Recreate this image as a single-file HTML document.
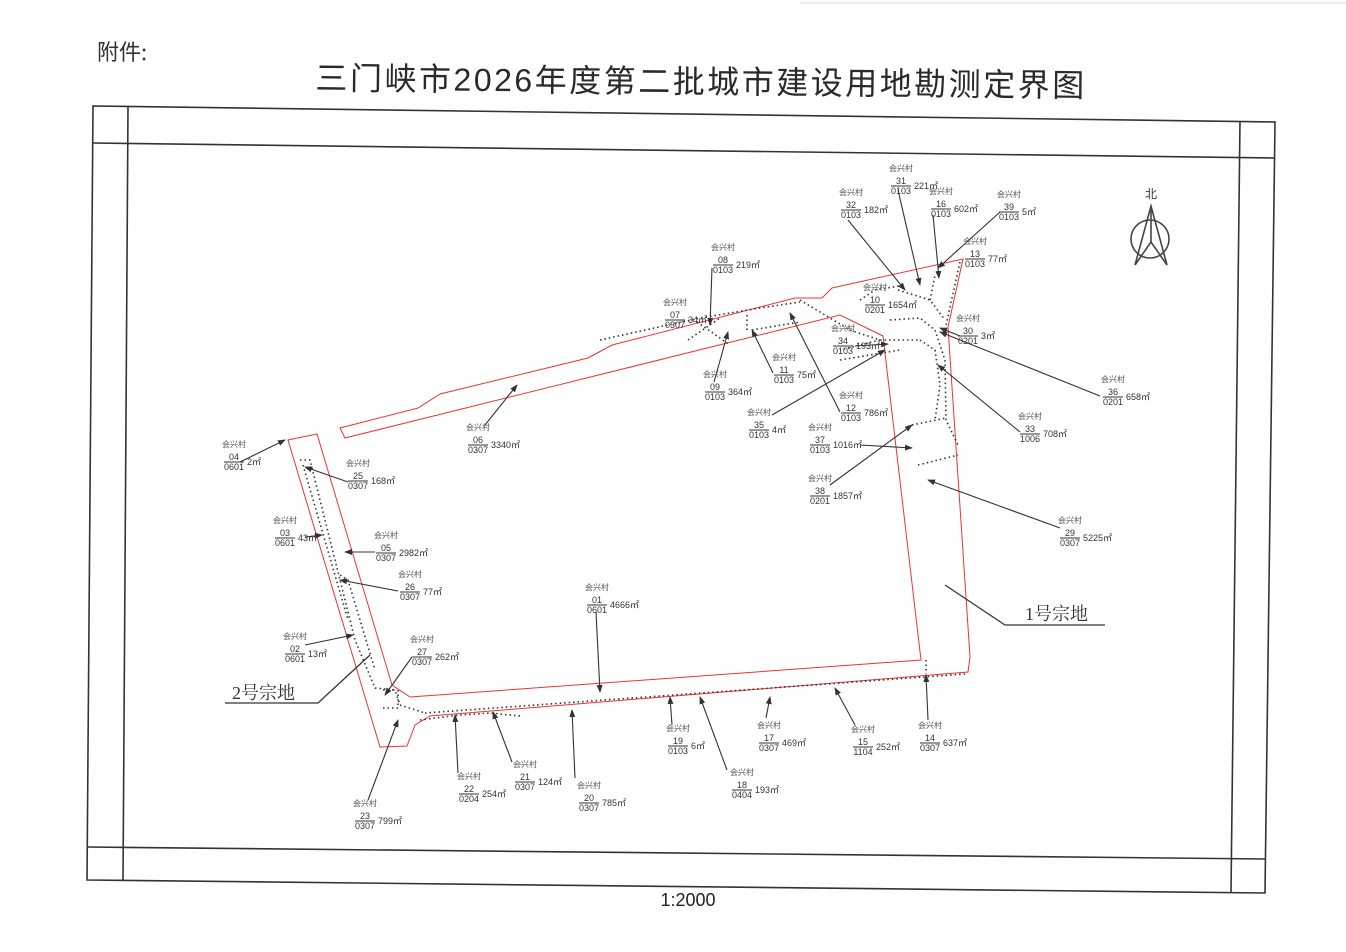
<!DOCTYPE html>
<html><head><meta charset="utf-8"><style>
html,body{margin:0;padding:0;background:#fff;}
svg{display:block}
.c{font-size:8px;fill:#555;font-family:"Noto Sans CJK SC",sans-serif;}
.n{font-size:9px;fill:#333;font-family:"Liberation Sans",sans-serif;}
</style></head><body>
<svg width="1346" height="952" viewBox="0 0 1346 952" xmlns="http://www.w3.org/2000/svg">
<defs><marker id="a" markerWidth="8" markerHeight="6" refX="7" refY="3" orient="auto" markerUnits="userSpaceOnUse"><path d="M0,0 L8,3 L0,6 z" fill="#333"/></marker></defs>
<rect width="1346" height="952" fill="#fff"/>
<line x1="800" y1="3" x2="1346" y2="3" stroke="#ddd" stroke-width="1"/>
<text x="97" y="60" font-size="22" font-family="Noto Sans CJK SC,sans-serif" fill="#333">附件:</text>
<text x="701" y="93" font-size="32" letter-spacing="2.5" text-anchor="middle" font-family="Liberation Sans,Noto Sans CJK SC,sans-serif" fill="#2a2a2a" transform="rotate(0.55 701 93)">三门峡市2026年度第二批城市建设用地勘测定界图</text>
<g stroke="#333" stroke-width="1.6" fill="none">
<polygon points="93,106 1275,122 1265,893 87,880"/>
<line x1="92" y1="143" x2="1274" y2="158"/>
<line x1="88" y1="847" x2="1266" y2="859"/>
<line x1="128" y1="107" x2="123" y2="881"/>
<line x1="1240" y1="121" x2="1231" y2="892"/>
</g>
<text x="688" y="906" font-size="18" text-anchor="middle" font-family="Liberation Sans,sans-serif" fill="#222">1:2000</text>
<g stroke="#444" stroke-width="1.6" fill="none">
<circle cx="1150" cy="239" r="19"/>
<polyline points="1135,265 1151,206 1167,265 1151,242 1135,265"/>
<line x1="1151" y1="206" x2="1151" y2="242"/>
</g>
<text x="1151" y="198" font-size="12" text-anchor="middle" font-family="Noto Sans CJK SC,sans-serif" fill="#333">北</text>
<g stroke="#e33" stroke-width="1" fill="none">
<polygon points="288,440 317,434 392,685 410,697 921,660 883,336 840,315 345,438 340,428 418,408 440,394 588,358 612,345 795,298 822,298 832,288 963,259 948,327 970,657 968,672 430,716 415,725 407,746 380,747"/>
</g>
<g stroke="#333" stroke-width="1.6" fill="none" stroke-dasharray="1.5,3">
<polyline points="425,713 965,674"/>
<polyline points="300,460 310,460 355,640 375,688 395,690 400,705 425,713"/>
<polyline points="303,465 348,620"/>
<polyline points="340,575 348,580 375,670"/>
<polyline points="383,690 393,690"/>
<polyline points="383,708 398,708 398,690"/>
<polyline points="926,660 926,674"/>
<polyline points="600,340 700,318 760,308 800,302"/>
<polyline points="697,322 730,345"/>
<polyline points="688,340 720,318"/>
<polyline points="747,330 747,312"/>
<polyline points="752,330 800,322"/>
<polyline points="800,300 850,330 880,340 920,340"/>
<polyline points="880,340 860,345 840,350"/>
<polyline points="890,320 920,318 935,330 945,360 946,420 958,445"/>
<polyline points="860,300 875,290 905,285"/>
<polyline points="898,290 930,300 945,320"/>
<polyline points="930,300 935,275"/>
<polyline points="960,262 945,330"/>
<polyline points="920,340 935,350 940,385 935,420"/>
<polyline points="912,425 946,418"/>
<polyline points="918,465 958,455"/>
<polyline points="840,360 900,350"/>
<polyline points="420,720 460,715 490,713 520,716"/>
</g>
<g stroke="#333" stroke-width="1.1" fill="none" marker-end="url(#a)">
<line x1="898" y1="190" x2="920" y2="285"/>
<line x1="848" y1="220" x2="905" y2="290"/>
<line x1="933" y1="215" x2="939" y2="278"/>
<line x1="1000" y1="212" x2="938" y2="268"/>
<line x1="712" y1="268" x2="710" y2="325"/>
<line x1="960" y1="336" x2="940" y2="328"/>
<line x1="855" y1="346" x2="888" y2="344"/>
<line x1="773" y1="373" x2="752" y2="330"/>
<line x1="714" y1="382" x2="728" y2="332"/>
<line x1="1100" y1="396" x2="940" y2="332"/>
<line x1="840" y1="412" x2="790" y2="313"/>
<line x1="772" y1="415" x2="885" y2="350"/>
<line x1="860" y1="445" x2="912" y2="448"/>
<line x1="1020" y1="432" x2="938" y2="365"/>
<line x1="485" y1="425" x2="517" y2="385"/>
<line x1="240" y1="462" x2="285" y2="440"/>
<line x1="348" y1="482" x2="305" y2="467"/>
<line x1="830" y1="485" x2="912" y2="425"/>
<line x1="1060" y1="528" x2="928" y2="480"/>
<line x1="305" y1="537" x2="322" y2="535"/>
<line x1="375" y1="552" x2="345" y2="552"/>
<line x1="398" y1="591" x2="340" y2="580"/>
<line x1="596" y1="612" x2="600" y2="692"/>
<line x1="305" y1="645" x2="353" y2="635"/>
<line x1="412" y1="657" x2="385" y2="695"/>
<line x1="672" y1="725" x2="670" y2="697"/>
<line x1="766" y1="718" x2="770" y2="697"/>
<line x1="855" y1="725" x2="835" y2="688"/>
<line x1="928" y1="720" x2="926" y2="675"/>
<line x1="512" y1="762" x2="493" y2="712"/>
<line x1="727" y1="770" x2="700" y2="697"/>
<line x1="458" y1="773" x2="455" y2="715"/>
<line x1="575" y1="778" x2="572" y2="710"/>
<line x1="368" y1="800" x2="398" y2="720"/>
</g>
<g stroke="#333" stroke-width="1.3" fill="none">
<polyline points="945,585 1005,625 1105,625"/>
<polyline points="370,655 318,703 225,703"/>
</g>
<text x="1025" y="620" font-size="18" font-family="Liberation Serif,Noto Serif CJK SC,serif" fill="#333">1号宗地</text>
<text x="232" y="699" font-size="18" font-family="Liberation Serif,Noto Serif CJK SC,serif" fill="#333">2号宗地</text>
<g>
<g transform="translate(901,184)"><text class="c" y="-13" text-anchor="middle">会兴村</text><text class="n" text-anchor="middle">31</text><line x1="-10" y1="2" x2="10" y2="2" stroke="#333"/><text class="n" y="10" text-anchor="middle">0103</text><text class="n" x="13" y="5">221㎡</text></g>
<g transform="translate(851,208)"><text class="c" y="-13" text-anchor="middle">会兴村</text><text class="n" text-anchor="middle">32</text><line x1="-10" y1="2" x2="10" y2="2" stroke="#333"/><text class="n" y="10" text-anchor="middle">0103</text><text class="n" x="13" y="5">182㎡</text></g>
<g transform="translate(941,207)"><text class="c" y="-13" text-anchor="middle">会兴村</text><text class="n" text-anchor="middle">16</text><line x1="-10" y1="2" x2="10" y2="2" stroke="#333"/><text class="n" y="10" text-anchor="middle">0103</text><text class="n" x="13" y="5">602㎡</text></g>
<g transform="translate(1009,210)"><text class="c" y="-13" text-anchor="middle">会兴村</text><text class="n" text-anchor="middle">39</text><line x1="-10" y1="2" x2="10" y2="2" stroke="#333"/><text class="n" y="10" text-anchor="middle">0103</text><text class="n" x="13" y="5">5㎡</text></g>
<g transform="translate(975,257)"><text class="c" y="-13" text-anchor="middle">会兴村</text><text class="n" text-anchor="middle">13</text><line x1="-10" y1="2" x2="10" y2="2" stroke="#333"/><text class="n" y="10" text-anchor="middle">0103</text><text class="n" x="13" y="5">77㎡</text></g>
<g transform="translate(875,303)"><text class="c" y="-13" text-anchor="middle">会兴村</text><text class="n" text-anchor="middle">10</text><line x1="-10" y1="2" x2="10" y2="2" stroke="#333"/><text class="n" y="10" text-anchor="middle">0201</text><text class="n" x="13" y="5">1654㎡</text></g>
<g transform="translate(723,263)"><text class="c" y="-13" text-anchor="middle">会兴村</text><text class="n" text-anchor="middle">08</text><line x1="-10" y1="2" x2="10" y2="2" stroke="#333"/><text class="n" y="10" text-anchor="middle">0103</text><text class="n" x="13" y="5">219㎡</text></g>
<g transform="translate(675,318)"><text class="c" y="-13" text-anchor="middle">会兴村</text><text class="n" text-anchor="middle">07</text><line x1="-10" y1="2" x2="10" y2="2" stroke="#333"/><text class="n" y="10" text-anchor="middle">0307</text><text class="n" x="13" y="5">34㎡</text></g>
<g transform="translate(968,334)"><text class="c" y="-13" text-anchor="middle">会兴村</text><text class="n" text-anchor="middle">30</text><line x1="-10" y1="2" x2="10" y2="2" stroke="#333"/><text class="n" y="10" text-anchor="middle">0201</text><text class="n" x="13" y="5">3㎡</text></g>
<g transform="translate(843,344)"><text class="c" y="-13" text-anchor="middle">会兴村</text><text class="n" text-anchor="middle">34</text><line x1="-10" y1="2" x2="10" y2="2" stroke="#333"/><text class="n" y="10" text-anchor="middle">0103</text><text class="n" x="13" y="5">193㎡</text></g>
<g transform="translate(784,373)"><text class="c" y="-13" text-anchor="middle">会兴村</text><text class="n" text-anchor="middle">11</text><line x1="-10" y1="2" x2="10" y2="2" stroke="#333"/><text class="n" y="10" text-anchor="middle">0103</text><text class="n" x="13" y="5">75㎡</text></g>
<g transform="translate(715,390)"><text class="c" y="-13" text-anchor="middle">会兴村</text><text class="n" text-anchor="middle">09</text><line x1="-10" y1="2" x2="10" y2="2" stroke="#333"/><text class="n" y="10" text-anchor="middle">0103</text><text class="n" x="13" y="5">364㎡</text></g>
<g transform="translate(1113,395)"><text class="c" y="-13" text-anchor="middle">会兴村</text><text class="n" text-anchor="middle">36</text><line x1="-10" y1="2" x2="10" y2="2" stroke="#333"/><text class="n" y="10" text-anchor="middle">0201</text><text class="n" x="13" y="5">658㎡</text></g>
<g transform="translate(851,411)"><text class="c" y="-13" text-anchor="middle">会兴村</text><text class="n" text-anchor="middle">12</text><line x1="-10" y1="2" x2="10" y2="2" stroke="#333"/><text class="n" y="10" text-anchor="middle">0103</text><text class="n" x="13" y="5">786㎡</text></g>
<g transform="translate(759,428)"><text class="c" y="-13" text-anchor="middle">会兴村</text><text class="n" text-anchor="middle">35</text><line x1="-10" y1="2" x2="10" y2="2" stroke="#333"/><text class="n" y="10" text-anchor="middle">0103</text><text class="n" x="13" y="5">4㎡</text></g>
<g transform="translate(820,443)"><text class="c" y="-13" text-anchor="middle">会兴村</text><text class="n" text-anchor="middle">37</text><line x1="-10" y1="2" x2="10" y2="2" stroke="#333"/><text class="n" y="10" text-anchor="middle">0103</text><text class="n" x="13" y="5">1016㎡</text></g>
<g transform="translate(1030,432)"><text class="c" y="-13" text-anchor="middle">会兴村</text><text class="n" text-anchor="middle">33</text><line x1="-10" y1="2" x2="10" y2="2" stroke="#333"/><text class="n" y="10" text-anchor="middle">1006</text><text class="n" x="13" y="5">708㎡</text></g>
<g transform="translate(478,443)"><text class="c" y="-13" text-anchor="middle">会兴村</text><text class="n" text-anchor="middle">06</text><line x1="-10" y1="2" x2="10" y2="2" stroke="#333"/><text class="n" y="10" text-anchor="middle">0307</text><text class="n" x="13" y="5">3340㎡</text></g>
<g transform="translate(234,460)"><text class="c" y="-13" text-anchor="middle">会兴村</text><text class="n" text-anchor="middle">04</text><line x1="-10" y1="2" x2="10" y2="2" stroke="#333"/><text class="n" y="10" text-anchor="middle">0601</text><text class="n" x="13" y="5">2㎡</text></g>
<g transform="translate(358,479)"><text class="c" y="-13" text-anchor="middle">会兴村</text><text class="n" text-anchor="middle">25</text><line x1="-10" y1="2" x2="10" y2="2" stroke="#333"/><text class="n" y="10" text-anchor="middle">0307</text><text class="n" x="13" y="5">168㎡</text></g>
<g transform="translate(820,494)"><text class="c" y="-13" text-anchor="middle">会兴村</text><text class="n" text-anchor="middle">38</text><line x1="-10" y1="2" x2="10" y2="2" stroke="#333"/><text class="n" y="10" text-anchor="middle">0201</text><text class="n" x="13" y="5">1857㎡</text></g>
<g transform="translate(1070,536)"><text class="c" y="-13" text-anchor="middle">会兴村</text><text class="n" text-anchor="middle">29</text><line x1="-10" y1="2" x2="10" y2="2" stroke="#333"/><text class="n" y="10" text-anchor="middle">0307</text><text class="n" x="13" y="5">5225㎡</text></g>
<g transform="translate(285,536)"><text class="c" y="-13" text-anchor="middle">会兴村</text><text class="n" text-anchor="middle">03</text><line x1="-10" y1="2" x2="10" y2="2" stroke="#333"/><text class="n" y="10" text-anchor="middle">0601</text><text class="n" x="13" y="5">43㎡</text></g>
<g transform="translate(386,551)"><text class="c" y="-13" text-anchor="middle">会兴村</text><text class="n" text-anchor="middle">05</text><line x1="-10" y1="2" x2="10" y2="2" stroke="#333"/><text class="n" y="10" text-anchor="middle">0307</text><text class="n" x="13" y="5">2982㎡</text></g>
<g transform="translate(410,590)"><text class="c" y="-13" text-anchor="middle">会兴村</text><text class="n" text-anchor="middle">26</text><line x1="-10" y1="2" x2="10" y2="2" stroke="#333"/><text class="n" y="10" text-anchor="middle">0307</text><text class="n" x="13" y="5">77㎡</text></g>
<g transform="translate(597,603)"><text class="c" y="-13" text-anchor="middle">会兴村</text><text class="n" text-anchor="middle">01</text><line x1="-10" y1="2" x2="10" y2="2" stroke="#333"/><text class="n" y="10" text-anchor="middle">0601</text><text class="n" x="13" y="5">4666㎡</text></g>
<g transform="translate(295,652)"><text class="c" y="-13" text-anchor="middle">会兴村</text><text class="n" text-anchor="middle">02</text><line x1="-10" y1="2" x2="10" y2="2" stroke="#333"/><text class="n" y="10" text-anchor="middle">0601</text><text class="n" x="13" y="5">13㎡</text></g>
<g transform="translate(422,655)"><text class="c" y="-13" text-anchor="middle">会兴村</text><text class="n" text-anchor="middle">27</text><line x1="-10" y1="2" x2="10" y2="2" stroke="#333"/><text class="n" y="10" text-anchor="middle">0307</text><text class="n" x="13" y="5">262㎡</text></g>
<g transform="translate(678,744)"><text class="c" y="-13" text-anchor="middle">会兴村</text><text class="n" text-anchor="middle">19</text><line x1="-10" y1="2" x2="10" y2="2" stroke="#333"/><text class="n" y="10" text-anchor="middle">0103</text><text class="n" x="13" y="5">6㎡</text></g>
<g transform="translate(769,741)"><text class="c" y="-13" text-anchor="middle">会兴村</text><text class="n" text-anchor="middle">17</text><line x1="-10" y1="2" x2="10" y2="2" stroke="#333"/><text class="n" y="10" text-anchor="middle">0307</text><text class="n" x="13" y="5">469㎡</text></g>
<g transform="translate(863,745)"><text class="c" y="-13" text-anchor="middle">会兴村</text><text class="n" text-anchor="middle">15</text><line x1="-10" y1="2" x2="10" y2="2" stroke="#333"/><text class="n" y="10" text-anchor="middle">1104</text><text class="n" x="13" y="5">252㎡</text></g>
<g transform="translate(930,741)"><text class="c" y="-13" text-anchor="middle">会兴村</text><text class="n" text-anchor="middle">14</text><line x1="-10" y1="2" x2="10" y2="2" stroke="#333"/><text class="n" y="10" text-anchor="middle">0307</text><text class="n" x="13" y="5">637㎡</text></g>
<g transform="translate(525,780)"><text class="c" y="-13" text-anchor="middle">会兴村</text><text class="n" text-anchor="middle">21</text><line x1="-10" y1="2" x2="10" y2="2" stroke="#333"/><text class="n" y="10" text-anchor="middle">0307</text><text class="n" x="13" y="5">124㎡</text></g>
<g transform="translate(742,788)"><text class="c" y="-13" text-anchor="middle">会兴村</text><text class="n" text-anchor="middle">18</text><line x1="-10" y1="2" x2="10" y2="2" stroke="#333"/><text class="n" y="10" text-anchor="middle">0404</text><text class="n" x="13" y="5">193㎡</text></g>
<g transform="translate(469,792)"><text class="c" y="-13" text-anchor="middle">会兴村</text><text class="n" text-anchor="middle">22</text><line x1="-10" y1="2" x2="10" y2="2" stroke="#333"/><text class="n" y="10" text-anchor="middle">0204</text><text class="n" x="13" y="5">254㎡</text></g>
<g transform="translate(589,801)"><text class="c" y="-13" text-anchor="middle">会兴村</text><text class="n" text-anchor="middle">20</text><line x1="-10" y1="2" x2="10" y2="2" stroke="#333"/><text class="n" y="10" text-anchor="middle">0307</text><text class="n" x="13" y="5">785㎡</text></g>
<g transform="translate(365,819)"><text class="c" y="-13" text-anchor="middle">会兴村</text><text class="n" text-anchor="middle">23</text><line x1="-10" y1="2" x2="10" y2="2" stroke="#333"/><text class="n" y="10" text-anchor="middle">0307</text><text class="n" x="13" y="5">799㎡</text></g>
</g>
</svg>
</body></html>
